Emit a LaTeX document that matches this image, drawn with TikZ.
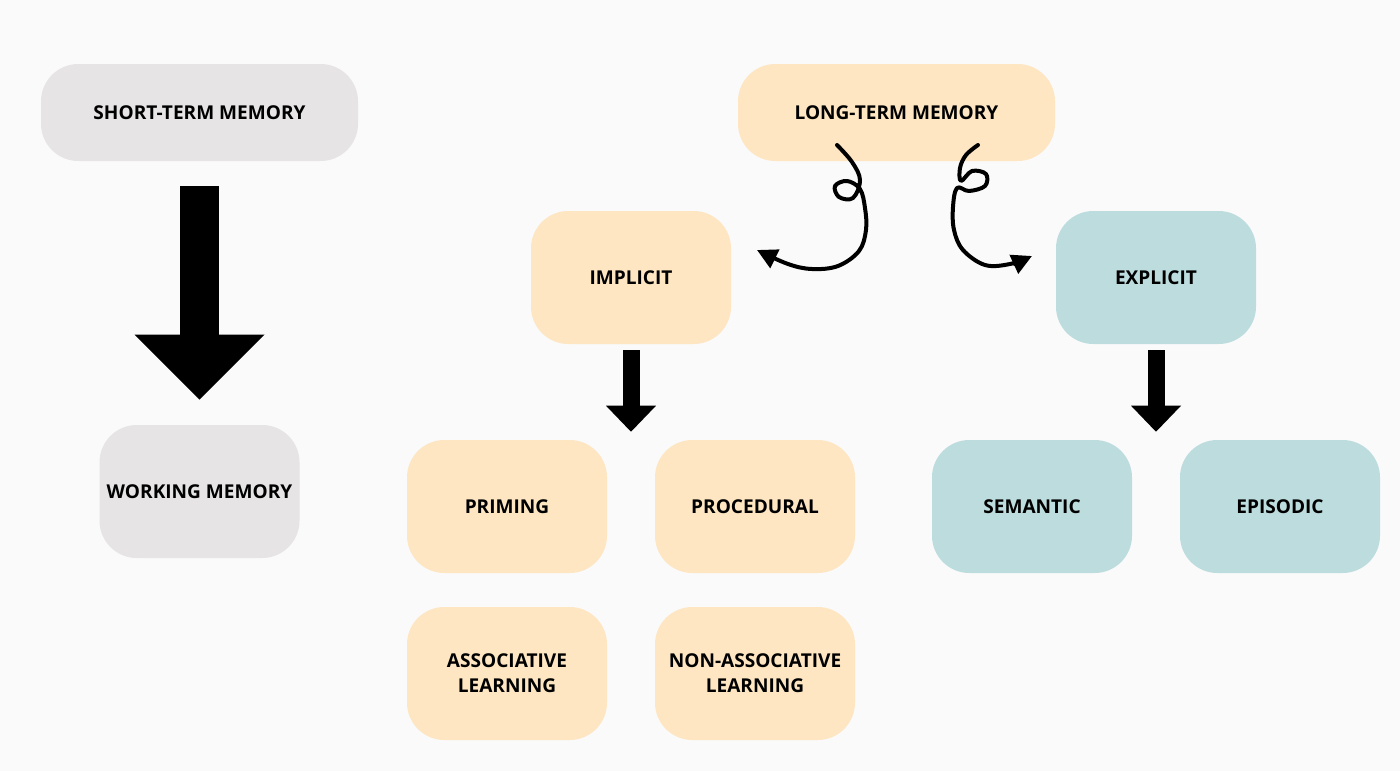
\documentclass[tikz,border=0pt]{standalone}
\usepackage{fontspec}
\setmainfont{Open Sans}
\usetikzlibrary{arrows.meta,calc}
\definecolor{paper}{HTML}{FAFAFA}
\definecolor{stmgrey}{HTML}{E6E4E5}
\definecolor{ltmorange}{HTML}{FDE6C1}
\definecolor{expteal}{HTML}{BCDCDE}
\begin{document}
\begin{tikzpicture}[x=0.75pt,y=-0.75pt,
  box/.style={rounded corners=28pt, minimum width=150pt, minimum height=99.75pt,
    inner sep=0pt, align=center, font=\fontsize{14.3}{19}\selectfont\bfseries},
  widebox/.style={box, minimum width=237.75pt, minimum height=72.75pt},
  blockarrow/.style={draw=black, line width=#1},
  curl/.style={line width=3pt, line cap=round, line join=round,
    -{Triangle[length=15pt,width=15pt]}}]
\fill[paper] (0,0) rectangle (1400,771);
% short-term side
\node [widebox, fill=stmgrey] (stm) at (199.5,112.5) {SHORT-TERM MEMORY};
\node [box, fill=stmgrey] (wm) at (199.5,491.5) {WORKING MEMORY};
% long-term side
\node [widebox, fill=ltmorange] (ltm) at (896.5,112.5) {LONG-TERM MEMORY};
\node [box, fill=ltmorange] (impl) at (631,277.5) {IMPLICIT};
\node [box, fill=expteal] (expl) at (1156,277.5) {EXPLICIT};
\node [box, fill=ltmorange] (prim) at (507,506.5) {PRIMING};
\node [box, fill=ltmorange] (proc) at (755,506.5) {PROCEDURAL};
\node [box, fill=ltmorange] (assoc) at (507,673.5) {ASSOCIATIVE\\LEARNING};
\node [box, fill=ltmorange] (nonassoc) at (755,673.5) {NON-ASSOCIATIVE\\LEARNING};
\node [box, fill=expteal] (sem) at (1032,506.5) {SEMANTIC};
\node [box, fill=expteal] (epi) at (1280,506.5) {EPISODIC};
\coordinate (implkids) at ($(prim.north)!0.5!(proc.north)$);
\coordinate (explkids) at ($(sem.north)!0.5!(epi.north)$);
% block arrows
\draw [blockarrow=29.25pt, shorten <=18.75pt, shorten >=18.75pt,
  -{Triangle[length=48.75pt,width=97.5pt,line width=0pt]}] (stm.south) -- (wm.north);
\draw [blockarrow=12.75pt, shorten <=4.5pt, shorten >=6pt,
  -{Triangle[length=19.5pt,width=37.5pt,line width=0pt]}] (impl.south) -- (implkids);
\draw [blockarrow=12.75pt, shorten <=4.5pt, shorten >=6pt,
  -{Triangle[length=19.5pt,width=37.5pt,line width=0pt]}] (expl.south) -- (explkids);
% curly arrows
\draw [curl] plot [smooth, tension=0.6] coordinates {(837,145) (852,162) (860,180)
  (853,198) (839,197) (835,186) (847,181) (860,189) (865,208) (866,230) (859,251)
  (838,266) (812,269) (788,264) (757,250)};
\draw [curl] plot [smooth, tension=0.6] coordinates {(978,145) (966,155) (960,168)
  (961,181) (972,171) (986,174) (985,186) (969,191) (957,188) (953,207) (954,230)
  (963,250) (985,265) (1010,264) (1032,256)};
\end{tikzpicture}
\end{document}
